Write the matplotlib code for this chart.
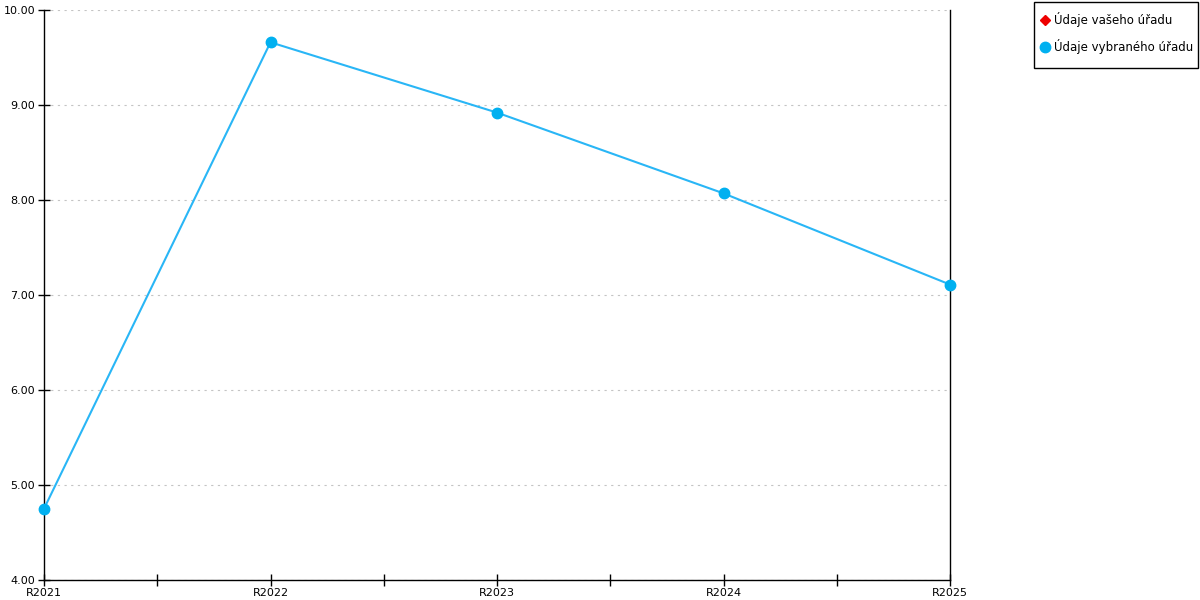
import matplotlib.pyplot as plt
from matplotlib.lines import Line2D
from matplotlib.patches import Rectangle

# reference chart: two series, only the "selected office" one has values
years = ["R2021", "R2022", "R2023", "R2024", "R2025"]
selected_office = [4.75, 9.66, 8.92, 8.07, 7.11]
your_office = []  # no data shown in the reference

line_color = "#29b6f6"
marker_color = "#00b0f0"

plt.rcParams["font.family"] = ["DejaVu Sans"]

fig = plt.figure(figsize=(12, 6), dpi=100)
ax = fig.add_axes([44 / 1200, 20 / 600, (950 - 44) / 1200, 570 / 600])

x = list(range(len(years)))
ax.plot(x, selected_office, color=line_color, linewidth=1.5, zorder=3)
ax.plot(x, selected_office, linestyle="none", marker="o", markersize=7.5,
        color=marker_color, zorder=4, clip_on=False)

ax.set_xlim(0, len(years) - 1)
ax.set_ylim(4, 10)
ax.set_xticks(x)
ax.set_xticklabels(years)
ax.set_xticks([i + 0.5 for i in x[:-1]], minor=True)
ax.set_yticks([4, 5, 6, 7, 8, 9, 10])
ax.set_yticklabels([f"{v:.2f}" for v in [4, 5, 6, 7, 8, 9, 10]])

ax.tick_params(axis="x", which="both", direction="inout", length=9, width=1,
               labelsize=8, pad=1)
ax.tick_params(axis="y", direction="inout", length=9, width=1, labelsize=8, pad=2)

ax.grid(axis="y", color="#c4c4c4", linestyle=(0, (2, 4)), linewidth=0.8)
ax.set_axisbelow(True)
ax.spines["top"].set_visible(False)
for side in ("left", "right", "bottom"):
    ax.spines[side].set_color("black")
    ax.spines[side].set_linewidth(1)

# legend box drawn by hand so it sits where the reference has it
fig.patches.append(Rectangle((1034 / 1200, 1 - 68 / 600), 164 / 1200, 66 / 600,
                             transform=fig.transFigure, facecolor="white",
                             edgecolor="black", linewidth=1))
handles = [
    Line2D([], [], linestyle="none", marker="D", markersize=5.5, color="#ee0000"),
    Line2D([], [], linestyle="none", marker="o", markersize=7.5, color=marker_color),
]
labels = ["Údaje vašeho úřadu", "Údaje vybraného úřadu"]
fig.legend(handles, labels, loc="upper left",
           bbox_to_anchor=(1040 / 1200, 1 - 12 / 600),
           fontsize=8.5, frameon=False, handlelength=0.8,
           handletextpad=0.35, labelspacing=1.05, borderpad=0,
           borderaxespad=0)

fig.savefig("out.png", dpi=100)
